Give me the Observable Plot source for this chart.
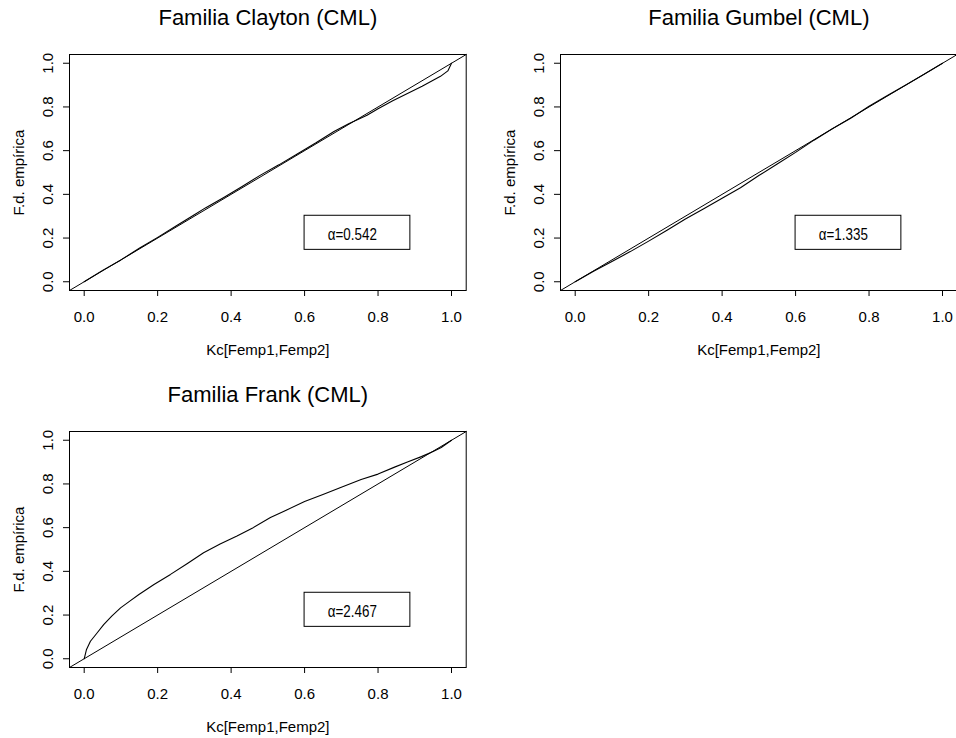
<!DOCTYPE html>
<html>
<head>
<meta charset="utf-8">
<script src="https://cdn.jsdelivr.net/npm/d3@7"></script>
<script src="https://cdn.jsdelivr.net/npm/@observablehq/plot@0.6"></script>
<style>
  html, body { margin: 0; padding: 0; background: white; overflow: hidden; width: 956px; height: 738px; }
  #wrap { position: relative; width: 956px; height: 738px; overflow: hidden; }
  .panel { position: absolute; }
</style>
</head>
<body>
<div id="wrap"></div>
<script>
// ---- data ----
const titles = ["Familia Clayton (CML)", "Familia Gumbel (CML)", "Familia Frank (CML)"];
const alphaLabels = ["α=0.542", "α=1.335", "α=2.467"];
const xLabel = "Kc[Femp1,Femp2]";
const yLabel = "F.d. empírica";
const xTicks = [0, 0.2, 0.4, 0.6, 0.8, 1.0];
const yTicks = [0, 0.2, 0.4, 0.6, 0.8, 1.0];

const claytonX = [0, 0.05, 0.1, 0.15, 0.2, 0.25, 0.3, 0.33, 0.38, 0.43, 0.48, 0.53, 0.58, 0.63, 0.68, 0.72, 0.77, 0.8, 0.84, 0.88, 0.92, 0.95, 0.97, 0.99, 1.0];
const claytonY = [0, 0.052, 0.1, 0.153, 0.203, 0.255, 0.307, 0.338, 0.386, 0.436, 0.488, 0.535, 0.585, 0.635, 0.688, 0.723, 0.762, 0.792, 0.828, 0.862, 0.895, 0.922, 0.94, 0.965, 1.0];

const gumbelX = [0, 0.05, 0.1, 0.15, 0.2, 0.25, 0.3, 0.35, 0.4, 0.45, 0.5, 0.55, 0.6, 0.65, 0.7, 0.75, 0.8, 0.85, 0.9, 0.95, 1.0];
const gumbelY = [0, 0.048, 0.093, 0.138, 0.186, 0.236, 0.287, 0.334, 0.382, 0.43, 0.486, 0.539, 0.592, 0.648, 0.7, 0.748, 0.803, 0.852, 0.9, 0.95, 1.0];

const frankX = [0, 0.006, 0.017, 0.035, 0.053, 0.075, 0.099, 0.125, 0.149, 0.19, 0.235, 0.28, 0.325, 0.37, 0.416, 0.46, 0.507, 0.55, 0.6, 0.65, 0.7, 0.754, 0.8, 0.845, 0.88, 0.918, 0.95, 0.972, 1.0];
const frankY = [0, 0.041, 0.08, 0.118, 0.156, 0.195, 0.233, 0.265, 0.294, 0.34, 0.386, 0.435, 0.485, 0.525, 0.562, 0.6, 0.646, 0.68, 0.72, 0.752, 0.785, 0.82, 0.845, 0.877, 0.9, 0.925, 0.948, 0.967, 1.0];

const seriesX = [claytonX, gumbelX, frankX];
const seriesY = [claytonY, gumbelY, frankY];

// ---- layout ----
const panelPos = [[0, 0], [491.3, 0], [0, 377]];
const lim = [-0.04, 1.04];
const fontMain = "'Liberation Sans', Arial, Helvetica, sans-serif";

const wrap = document.getElementById("wrap");

for (let i = 0; i < 3; i++) {
  const pts = seriesX[i].map((x, j) => ({x, y: seriesY[i][j]}));
  const chart = Plot.plot({
    width: 478,
    height: 369,
    marginLeft: 69,
    marginRight: 12.3,
    marginTop: 54,
    marginBottom: 79,
    style: {background: "transparent", color: "black", fontFamily: fontMain, fontSize: "15px", overflow: "visible"},
    x: {domain: lim, axis: null},
    y: {domain: lim, axis: null},
    marks: [
      Plot.line(lim.map(v => ({x: v, y: v})), {x: "x", y: "y", stroke: "black", strokeWidth: 1}),
      Plot.line(pts, {x: "x", y: "y", stroke: "black", strokeWidth: 1.1}),
      Plot.rect([alphaLabels[i]], {x1: 0.6, x2: 0.888, y1: 0.146, y2: 0.302, fill: "white", stroke: "black", strokeWidth: 1}),
      Plot.text([alphaLabels[i]], {x: 0.73, y: 0.216, text: d => d, fontFamily: fontMain, fontSize: 16, fill: "black", textAnchor: "middle"}),
      Plot.frame({stroke: "black", strokeWidth: 1}),
      Plot.axisX({ticks: xTicks, tickFormat: d => d.toFixed(1), tickSize: 6, tickPadding: 14.5, fontSize: 15, label: null, stroke: "black"}),
      Plot.axisY({ticks: yTicks, tickFormat: () => "", tickSize: 6, label: null, stroke: "black"}),
      Plot.text(yTicks, {y: d => d, text: d => d.toFixed(1), frameAnchor: "left", dx: -21.4, rotate: -90, fontSize: 15, fill: "black", textAnchor: "middle"}),
      Plot.text([yLabel], {text: d => d, frameAnchor: "left", dx: -50.4, rotate: -90, fontSize: 15, fill: "black", textAnchor: "middle"}),
      Plot.text([xLabel], {text: d => d, frameAnchor: "bottom", dy: 64.3, lineAnchor: "bottom", fontSize: 15, fill: "black"}),
      Plot.text([titles[i]], {text: d => d, frameAnchor: "top", dy: -30, lineAnchor: "bottom", fontSize: 22, fill: "black"})
    ]
  });
  // condense the legend label (narrow font look of the original)
  chart.querySelectorAll("text").forEach(t => {
    if (t.textContent.startsWith("α")) {
      t.setAttribute("textLength", "49");
      t.setAttribute("lengthAdjust", "spacingAndGlyphs");
    }
  });
  chart.classList.add("panel");
  chart.style.left = panelPos[i][0] + "px";
  chart.style.top = panelPos[i][1] + "px";
  wrap.appendChild(chart);
}
</script>
</body>
</html>
